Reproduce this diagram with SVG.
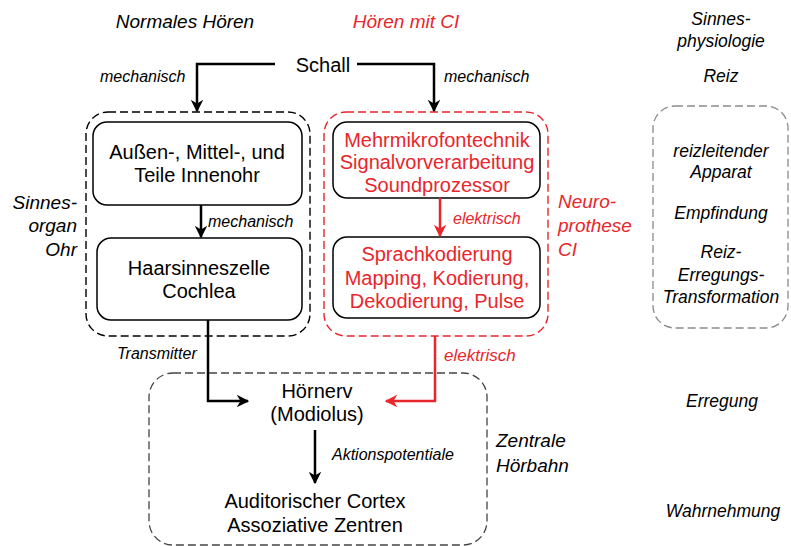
<svg xmlns="http://www.w3.org/2000/svg" width="791" height="546" viewBox="0 0 791 546">
<defs>
<style>
text{font-family:"Liberation Sans",Arial,sans-serif;}
.t{font-size:20px;fill:#000;text-anchor:middle;}
.tr{font-size:20px;fill:#e8262c;text-anchor:middle;}
.i{font-style:italic;font-size:16px;fill:#000;}
.ir{font-style:italic;font-size:16px;fill:#e8262c;}
.h{font-style:italic;font-size:19px;}
.c{font-style:italic;font-size:17.5px;fill:#000;text-anchor:middle;}
.box{fill:#fff;stroke:#000;stroke-width:1.5;}
.dk{fill:none;stroke:#000;stroke-width:1.4;stroke-dasharray:8 4;}
.dr{fill:none;stroke:#e8262c;stroke-width:1.4;stroke-dasharray:8 4;}
.dg{fill:none;stroke:#8a8a8a;stroke-width:1.3;stroke-dasharray:8 4;}
.dd{fill:none;stroke:#444;stroke-width:1.3;stroke-dasharray:8 4;}
.a{fill:none;stroke:#000;stroke-width:2.5;}
.ar{fill:none;stroke:#e8262c;stroke-width:2.5;}
</style>
<marker id="mk" viewBox="0 0 10 10" refX="9" refY="5" markerWidth="5" markerHeight="5" orient="auto" markerUnits="strokeWidth">
<path d="M0,0 L10,5 L0,10 L3,5 z" fill="#000"/>
</marker>
<marker id="mr" viewBox="0 0 10 10" refX="9" refY="5" markerWidth="5" markerHeight="5" orient="auto" markerUnits="strokeWidth">
<path d="M0,0 L10,5 L0,10 L3,5 z" fill="#e8262c"/>
</marker>
</defs>
<rect width="791" height="546" fill="#fff"/>

<g id="headers">
<text class="h" x="185" y="28" text-anchor="middle" fill="#000">Normales Hören</text>
<text class="h" x="406" y="28" text-anchor="middle" fill="#e8262c">Hören mit CI</text>
</g>

<g id="container-ohr">
<rect class="dk" x="86" y="112" width="224" height="224" rx="22"/>
<text class="h" x="77" y="209" text-anchor="end" fill="#000">Sinnes-</text>
<text class="h" x="77" y="232" text-anchor="end" fill="#000">organ</text>
<text class="h" x="77" y="256" text-anchor="end" fill="#000">Ohr</text>
</g>
<g id="container-ci">
<rect class="dr" x="324" y="112" width="224" height="224" rx="22"/>
<text class="h" x="558" y="208" fill="#e8262c">Neuro-</text>
<text class="h" x="558" y="232" fill="#e8262c">prothese</text>
<text class="h" x="558" y="256" fill="#e8262c">CI</text>
</g>
<g id="container-hoerbahn">
<rect class="dd" x="149" y="373" width="338" height="172" rx="24"/>
<text class="h" x="496" y="447" fill="#000">Zentrale</text>
<text class="h" x="496" y="472" fill="#000">Hörbahn</text>
</g>
<g id="container-right">
<rect class="dg" x="653" y="106" width="135" height="222" rx="22"/>
</g>

<g id="schall"><text class="t" x="323" y="72">Schall</text></g>

<g id="node-aussen">
<rect class="box" x="93" y="122" width="209" height="83" rx="14"/>
<text class="t" x="197" y="159">Außen-, Mittel-, und</text>
<text class="t" x="197" y="182">Teile Innenohr</text>
</g>
<g id="node-haarsinneszelle">
<rect class="box" x="97" y="238" width="205" height="82" rx="14"/>
<text class="t" x="199" y="275">Haarsinneszelle</text>
<text class="t" x="199" y="298">Cochlea</text>
</g>
<g id="node-prozessor">
<rect class="box" x="333" y="122" width="207" height="76" rx="14"/>
<text class="tr" x="437" y="147">Mehrmikrofontechnik</text>
<text class="tr" x="437" y="169">Signalvorverarbeitung</text>
<text class="tr" x="437" y="192">Soundprozessor</text>
</g>
<g id="node-sprachkodierung">
<rect class="box" x="333" y="237" width="207" height="81" rx="14"/>
<text class="tr" x="437" y="261">Sprachkodierung</text>
<text class="tr" x="437" y="285">Mapping, Kodierung,</text>
<text class="tr" x="437" y="308">Dekodierung, Pulse</text>
</g>
<g id="node-hoernerv">
<text class="t" x="317" y="398">Hörnerv</text>
<text class="t" x="317" y="421">(Modiolus)</text>
</g>
<g id="node-cortex">
<text class="t" x="315" y="508">Auditorischer Cortex</text>
<text class="t" x="315" y="532">Assoziative Zentren</text>
</g>

<g id="connectors">
<path class="a" d="M275,64 H197 V111" marker-end="url(#mk)"/>
<path class="a" d="M357,64 H434 V111" marker-end="url(#mk)"/>
<path class="a" d="M201,205 V237" marker-end="url(#mk)"/>
<path class="ar" d="M440,198 V236" marker-end="url(#mr)"/>
<path class="a" d="M208,320 V401 H248" marker-end="url(#mk)"/>
<path class="ar" d="M435,336 V401 H386" marker-end="url(#mr)"/>
<path class="a" d="M315,430 V483" marker-end="url(#mk)"/>
<text class="i" x="100" y="82">mechanisch</text>
<text class="i" x="444" y="82">mechanisch</text>
<text class="i" x="208" y="227">mechanisch</text>
<text class="ir" x="453" y="224">elektrisch</text>
<text class="i" x="117" y="359">Transmitter</text>
<text class="ir" x="444" y="361" style="font-size:17px">elektrisch</text>
<text class="i" x="332" y="460">Aktionspotentiale</text>
</g>

<g id="legend">
<text class="c" x="721" y="25">Sinnes-</text>
<text class="c" x="721" y="47">physiologie</text>
<text class="c" x="721" y="82">Reiz</text>
<text class="c" x="721" y="157">reizleitender</text>
<text class="c" x="721" y="178">Apparat</text>
<text class="c" x="721" y="219" fill="#555">Empfindung</text>
<text class="c" x="721" y="258">Reiz-</text>
<text class="c" x="721" y="281">Erregungs-</text>
<text class="c" x="721" y="303">Transformation</text>
<text class="c" x="722" y="407">Erregung</text>
<text class="c" x="723" y="517">Wahrnehmung</text>
</g>
</svg>
